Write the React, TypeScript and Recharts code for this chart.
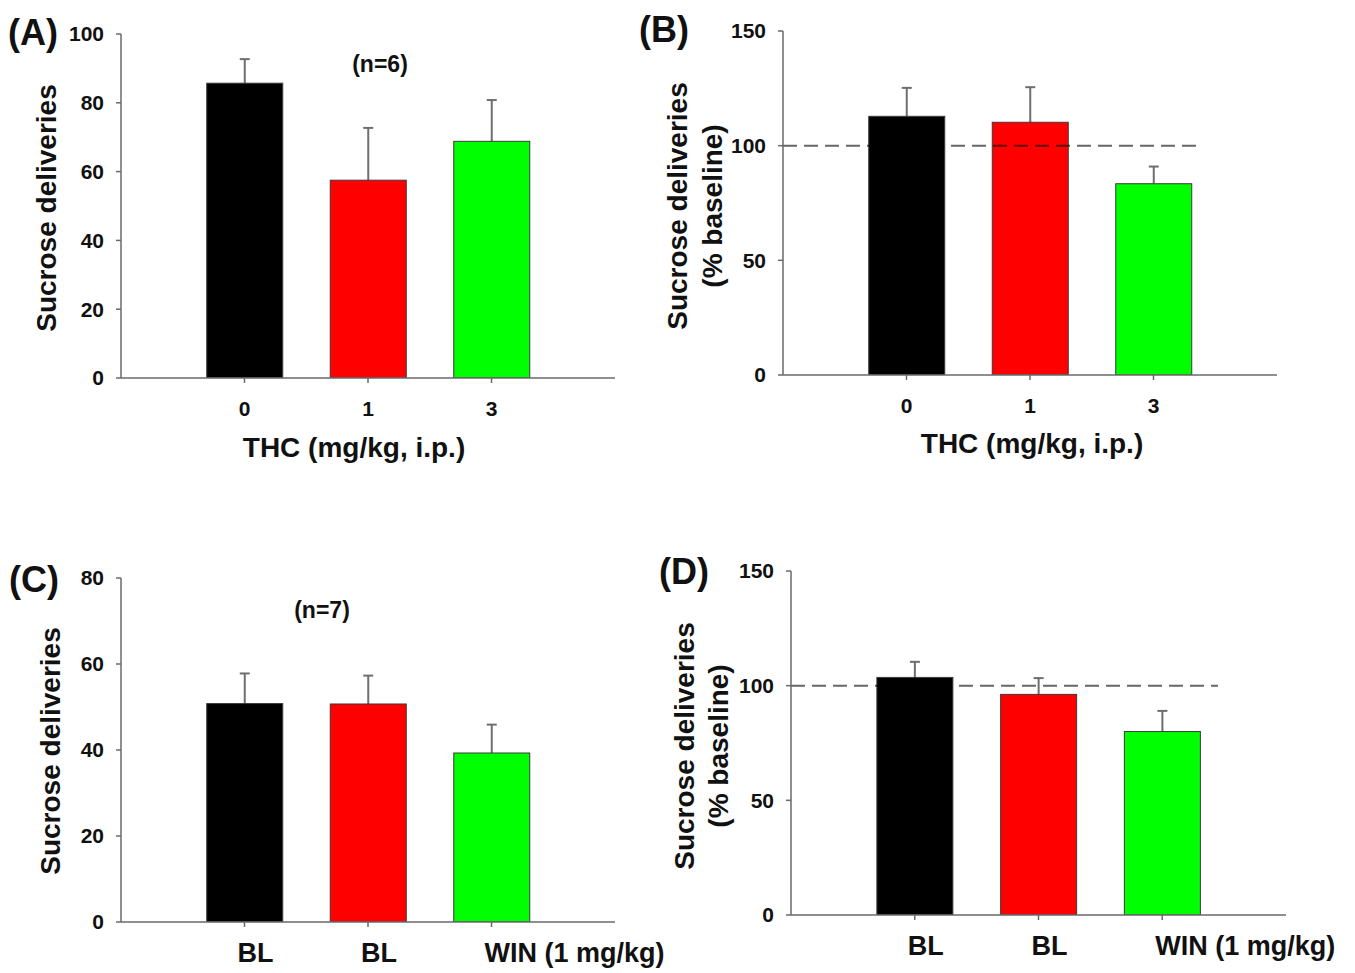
import React from 'react';
import { BarChart, Bar, XAxis, YAxis, Cell, ReferenceLine } from 'recharts';

const W = 1355;
const H = 973;

const colors = ['#000000', '#ff0000', '#00ff00'];

// Panel A
const aLabels = ['0', '1', '3'];
const aMeans = [85.7, 57.5, 68.8];
const aErr = [7.0, 15.2, 12.0];
const aTicks = [0, 20, 40, 60, 80, 100];

// Panel B
const bLabels = ['0', '1', '3'];
const bMeans = [112.8, 110.2, 83.4];
const bErr = [12.4, 15.3, 7.5];
const bTicks = [0, 50, 100, 150];

// Panel C
const cLabels = ['BL', 'BL', 'WIN (1 mg/kg)'];
const cMeans = [50.8, 50.7, 39.3];
const cErr = [7.0, 6.6, 6.6];
const cTicks = [0, 20, 40, 60, 80];

// Panel D
const dLabels = ['BL', 'BL', 'WIN (1 mg/kg)'];
const dMeans = [103.6, 96.2, 80.0];
const dErr = [6.8, 7.1, 9.0];
const dTicks = [0, 50, 100, 150];

const FONT = "'Liberation Sans', Arial, Helvetica, sans-serif";
const AXIS = '#6a6a6a';
const ERR = '#6e6e6e';

// Bar rectangle plus upper-only error bar, sized through the bar's own scaled height
function BarWithErr(props: any) {
  const { x, y, width, height, fill, payload } = props;
  const errPx = payload && payload.v ? (height * payload.e) / payload.v : 0;
  const cx = x + width / 2;
  return (
    <g>
      <line x1={cx} y1={y} x2={cx} y2={y - errPx} stroke={ERR} strokeWidth={2} />
      <line x1={cx - 5} y1={y - errPx} x2={cx + 5} y2={y - errPx} stroke={ERR} strokeWidth={2} />
      <rect x={x} y={y} width={width} height={height} fill={fill} stroke="#3a3a3a" strokeWidth={1} />
    </g>
  );
}

type PanelProps = {
  axisX: number;
  axisEnd: number;
  topY: number;
  bottomY: number;
  yMax: number;
  yTicks: number[];
  labels: string[];
  means: number[];
  errs: number[];
  xFont: number;
  xMargin: number;
  leftAnchored?: boolean;
  refEnd?: number;
};

function Panel(p: PanelProps) {
  const data = p.means.map((v, i) => ({ x: i + 1, v, e: p.errs[i] }));
  const yW = 60;
  const xH = 50;
  const tickStyle = { fontSize: p.xFont, fontWeight: 'bold', fill: '#111', fontFamily: FONT };
  const StartTick = (tp: any) => (
    <text x={tp.x - 7} y={tp.y} dy="0.71em" textAnchor="start" {...tickStyle}>
      {p.labels[tp.payload.value - 1]}
    </text>
  );
  return (
    <div style={{ position: 'absolute', left: 0, top: 0 }}>
      <BarChart
        width={W}
        height={H}
        data={data}
        margin={{ top: p.topY, left: p.axisX - yW, right: W - p.axisEnd, bottom: H - p.bottomY - xH }}
      >
        <XAxis
          type="number"
          dataKey="x"
          domain={[0, 4]}
          ticks={[1, 2, 3]}
          tickFormatter={(v: number) => p.labels[v - 1]}
          height={xH}
          axisLine={{ stroke: AXIS, strokeWidth: 1.5 }}
          tickLine={{ stroke: AXIS, strokeWidth: 1.5 }}
          tickSize={5}
          tickMargin={p.xMargin}
          tick={p.leftAnchored ? StartTick : tickStyle}
          interval={0}
          allowDataOverflow
        />
        <YAxis
          type="number"
          domain={[0, p.yMax]}
          ticks={p.yTicks}
          width={yW}
          axisLine={{ stroke: AXIS, strokeWidth: 1.5 }}
          tickLine={{ stroke: AXIS, strokeWidth: 1.5 }}
          tickSize={5}
          tickMargin={12}
          tick={{ fontSize: 21, fontWeight: 'bold', fill: '#111', fontFamily: FONT }}
          interval={0}
          allowDataOverflow
        />
        <Bar dataKey="v" barSize={76} shape={BarWithErr} isAnimationActive={false}>
          {data.map((d, i) => (
            <Cell key={i} fill={colors[i]} />
          ))}
        </Bar>
        {p.refEnd !== undefined && (
          <ReferenceLine
            segment={[{ x: 0, y: 100 }, { x: p.refEnd, y: 100 }]}
            stroke="rgba(0,0,0,0.6)"
            strokeWidth={2}
            strokeDasharray="14 7"
            ifOverflow="visible"
          />
        )}
      </BarChart>
    </div>
  );
}

const txt = { fontFamily: FONT, fontWeight: 'bold' as const, fill: '#111' };

export default function App() {
  return (
    <div style={{ position: 'absolute', left: 0, top: 0, width: W, height: H, background: '#fff', overflow: 'hidden' }}>
      <Panel axisX={121} axisEnd={615} topY={34} bottomY={378} yMax={100} yTicks={aTicks} labels={aLabels} means={aMeans} errs={aErr} xFont={21} xMargin={18} />
      <Panel axisX={783} axisEnd={1277} topY={31} bottomY={375} yMax={150} yTicks={bTicks} labels={bLabels} means={bMeans} errs={bErr} xFont={21} xMargin={18} refEnd={3.4} />
      <Panel axisX={121} axisEnd={615} topY={578} bottomY={922} yMax={80} yTicks={cTicks} labels={cLabels} means={cMeans} errs={cErr} xFont={27} xMargin={16} leftAnchored />
      <Panel axisX={791} axisEnd={1286} topY={571} bottomY={915} yMax={150} yTicks={dTicks} labels={dLabels} means={dMeans} errs={dErr} xFont={27} xMargin={16} leftAnchored refEnd={3.45} />
      <svg width={W} height={H} style={{ position: 'absolute', left: 0, top: 0, pointerEvents: 'none' }}>
        <text x={8} y={32} fontSize={36} dominantBaseline="central" {...txt}>(A)</text>
        <text x={639} y={29} fontSize={36} dominantBaseline="central" {...txt}>(B)</text>
        <text x={9} y={579} fontSize={36} dominantBaseline="central" {...txt}>(C)</text>
        <text x={659} y={571} fontSize={36} dominantBaseline="central" {...txt}>(D)</text>

        <text x={380} y={64} fontSize={23} textAnchor="middle" dominantBaseline="central" {...txt}>(n=6)</text>
        <text x={322} y={610} fontSize={23} textAnchor="middle" dominantBaseline="central" {...txt}>(n=7)</text>

        <text transform="translate(46,208) rotate(-90)" fontSize={28} textAnchor="middle" dominantBaseline="central" {...txt}>Sucrose deliveries</text>
        <text x={354} y={447} fontSize={28} textAnchor="middle" dominantBaseline="central" {...txt}>THC (mg/kg, i.p.)</text>

        <text transform="translate(677,206) rotate(-90)" fontSize={28} textAnchor="middle" dominantBaseline="central" {...txt}>Sucrose deliveries</text>
        <text transform="translate(712,206) rotate(-90)" fontSize={28} textAnchor="middle" dominantBaseline="central" {...txt}>(% baseline)</text>
        <text x={1032} y={443} fontSize={28} textAnchor="middle" dominantBaseline="central" {...txt}>THC (mg/kg, i.p.)</text>

        <text transform="translate(50,751) rotate(-90)" fontSize={28} textAnchor="middle" dominantBaseline="central" {...txt}>Sucrose deliveries</text>

        <text transform="translate(684,746) rotate(-90)" fontSize={28} textAnchor="middle" dominantBaseline="central" {...txt}>Sucrose deliveries</text>
        <text transform="translate(718,746) rotate(-90)" fontSize={28} textAnchor="middle" dominantBaseline="central" {...txt}>(% baseline)</text>
      </svg>
    </div>
  );
}
